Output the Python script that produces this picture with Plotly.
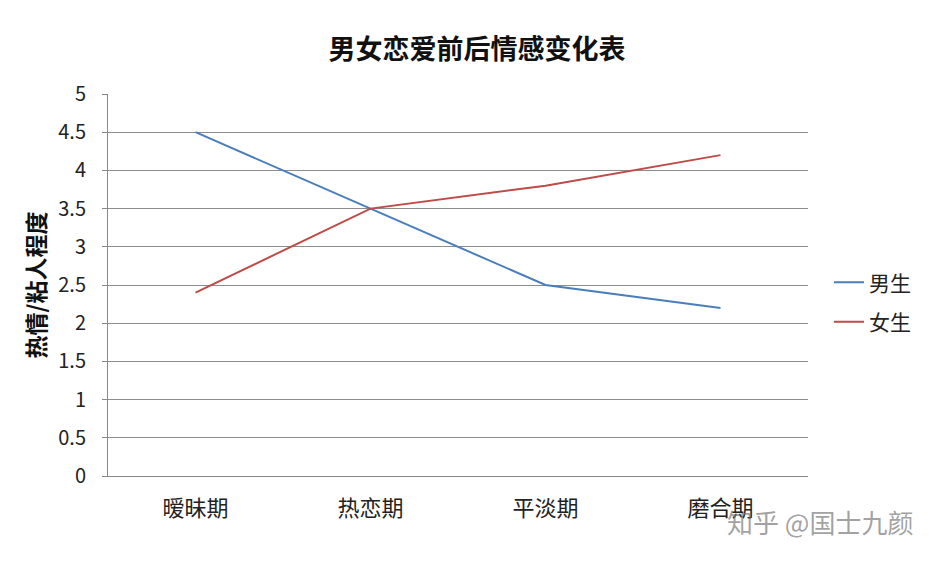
import plotly.graph_objects as go

categories = ["暧昧期", "热恋期", "平淡期", "磨合期"]
male = [4.5, 3.5, 2.5, 2.2]
female = [2.4, 3.5, 3.8, 4.2]
y_ticks = [0, 0.5, 1, 1.5, 2, 2.5, 3, 3.5, 4, 4.5, 5]
y_tick_text = ["0", "0.5", "1", "1.5", "2", "2.5", "3", "3.5", "4", "4.5", "5"]

FONT = "Noto Sans CJK SC"

fig = go.Figure()
fig.add_trace(go.Scatter(x=categories, y=male, mode="lines", name="男生", legendgroup="m",
                         line=dict(color="#4A7EBB", width=2)))
fig.add_trace(go.Scatter(x=categories, y=female, mode="lines", name="女生", legendgroup="f",
                         line=dict(color="#BE4B48", width=2)))

fig.update_layout(
    width=938, height=564,
    margin=dict(l=100, r=138, t=86, b=96),
    paper_bgcolor="white", plot_bgcolor="white",
    font=dict(family=FONT, color="#222"),
    title=dict(text="<b>男女恋爱前后情感变化表</b>", x=0.5, xanchor="center",
               yref="container", y=1 - 42 / 564, yanchor="middle",
               font=dict(size=27, family=FONT, color="#111")),
    xaxis=dict(type="category", range=[-0.5, 3.5], showgrid=False,
               showline=True, linecolor="#888", linewidth=1,
               tickfont=dict(size=22, color="#222"), ticks="", ticklabelstandoff=13),
    yaxis=dict(range=[0, 5], tickvals=y_ticks, ticktext=y_tick_text,
               showgrid=True, gridcolor="#8c8c8c", gridwidth=1,
               showline=True, linecolor="#888", linewidth=1,
               ticks="outside", ticklen=5, tickcolor="#888",
               tickfont=dict(size=20, color="#222"), ticklabelstandoff=12,
               title=dict(text="<b>热情/粘人程度</b>", font=dict(size=23, family=FONT, color="#111"),
                          standoff=6),
               zeroline=False),
    legend=dict(x=1.03, y=0.455, xanchor="left", yanchor="middle",
                font=dict(size=21, color="#222"), tracegroupgap=9,
                bgcolor="rgba(0,0,0,0)"),
    showlegend=True,
)

fig.add_annotation(text="知乎 @国士九颜", xref="paper", yref="paper",
                   x=1.153, y=-0.12, xanchor="right", yanchor="middle",
                   showarrow=False, font=dict(size=26, color="rgba(120,120,120,0.7)", family=FONT))

fig.write_html("out.html")
